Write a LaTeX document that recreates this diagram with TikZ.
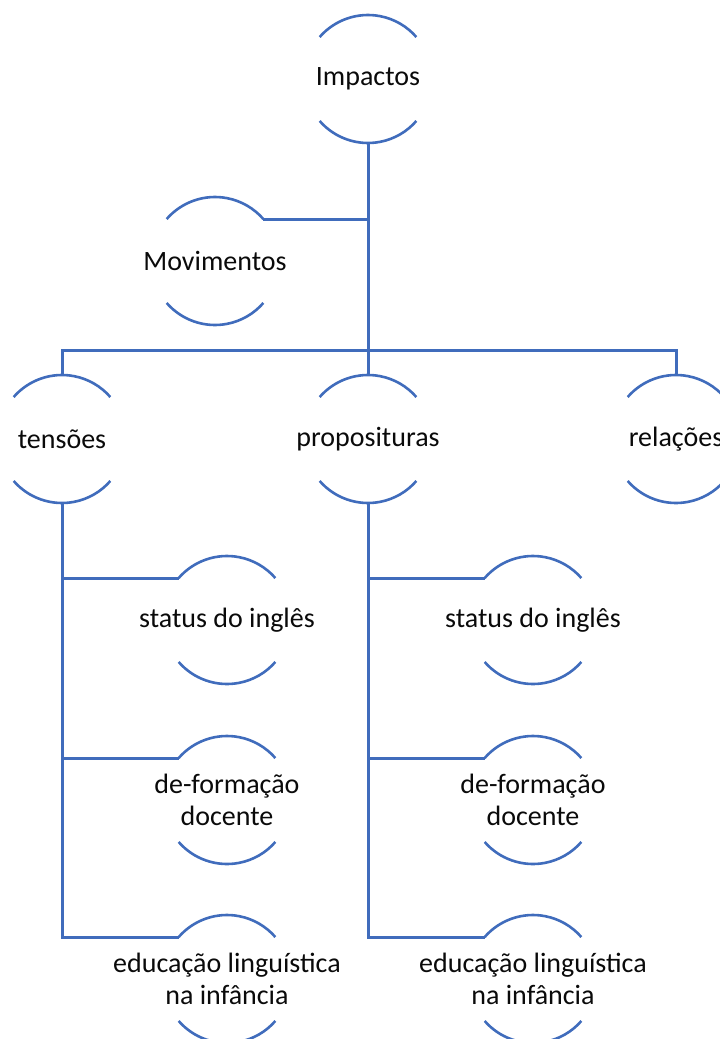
\documentclass[tikz,border=0pt]{standalone}
\usepackage{fontspec}
\setmainfont{Carlito}
\definecolor{hblue}{RGB}{64,108,188}
\definecolor{htextc}{RGB}{10,10,10}
\tikzset{
  hcircle/.style={shape=circle, minimum size=128bp, inner sep=0pt, outer sep=0pt, draw=none},
  htext/.style={align=center, text=htextc, font=\fontsize{28bp}{32bp}\selectfont, inner sep=0pt},
  harc/.style={draw=hblue, line width=2.6bp},
  hconn/.style={draw=hblue, line width=3bp}
}
\newcommand\hnode[3]{%
  \node[hcircle] (#1) at (#2) {};
  \node[htext] (#1t) at (#1) {#3};
  \draw[harc] (#1.139) arc[start angle=139, end angle=41, radius=64bp];
  \draw[harc] (#1.221) arc[start angle=221, end angle=319, radius=64bp];
}
\begin{document}
\begin{tikzpicture}[x=1bp,y=1bp]
\useasboundingbox (0,0) rectangle (720,-1039);
\hnode{imp}{368,-79}{Impactos}
\hnode{mov}{215,-261}{Movimentos}
\hnode{ten}{62,-439}{tensões}
\hnode{prop}{368,-439}{proposituras}
\hnode{rel}{676,-439}{relações}
\hnode{ta}{227,-620}{status do inglês}
\hnode{tb}{227,-800}{de-formação\\docente}
\hnode{tc}{227,-979}{educação linguística\\na infância}
\hnode{pa}{533,-620}{status do inglês}
\hnode{pb}{533,-800}{de-formação\\docente}
\hnode{pc}{533,-979}{educação linguística\\na infância}
\coordinate (bus) at (368,-350);
\draw[hconn] (imp.south) -- (prop.north);
\draw[hconn] (mov.41) -- (mov.41 -| imp.south);
\draw[hconn] (ten.north) |- (bus) -| (rel.north);
\draw[hconn] (ten.south) |- (ta.139);
\draw[hconn] (ten.south) |- (tb.139);
\draw[hconn] (ten.south) |- (tc.139);
\draw[hconn] (prop.south) |- (pa.139);
\draw[hconn] (prop.south) |- (pb.139);
\draw[hconn] (prop.south) |- (pc.139);
\end{tikzpicture}
\end{document}
